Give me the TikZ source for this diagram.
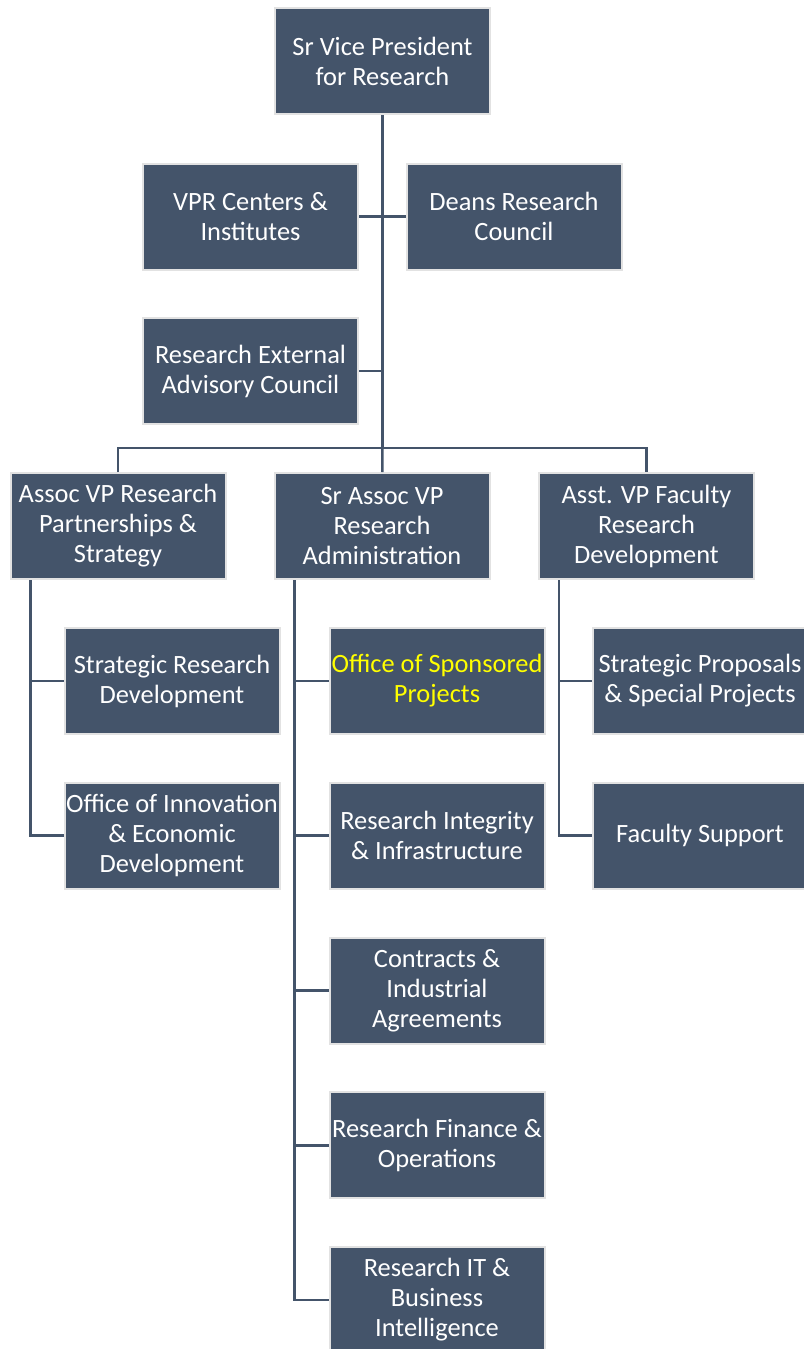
\documentclass[tikz,border=0pt]{standalone}
\usepackage{fontspec}
\setmainfont{Carlito}
\usetikzlibrary{positioning}
\definecolor{boxblue}{HTML}{44546A}
\definecolor{boxrim}{HTML}{E2E2E2}
\definecolor{ospyellow}{HTML}{FFFF00}

\begin{document}
\begin{tikzpicture}[x=1pt, y=-1pt,
    unit/.style={draw=boxrim, line width=2pt, fill=boxblue, text=white,
        minimum width=215pt, minimum height=106pt, inner sep=0pt, align=center,
        font=\fontsize{26.4}{30}\selectfont},
    wire/.style={draw=boxblue, line width=2.5pt}]
            \useasboundingbox (0,0) rectangle (803,1349);

            % Draw the top boxes
            \node[unit] (svp) at (382.5, 61) {Sr Vice President\\for Research};
            \node[unit] (vprc) at (250.5, 216.5) {VPR Centers \&\\Institutes};
            \node[unit] (deans) at (514, 216.5) {Deans Research\\Council};
            \node[unit] (reac) at (250.5, 371) {Research External\\Advisory Council};

            % Draw the three assoc boxes
            \node[unit] (avp) at (118, 526) {Assoc VP Research\\Partnerships \&\\Strategy};
            \node[unit] (savp) at (382, 526) {Sr Assoc VP\\Research\\Administration};
            \node[unit] (aavp) at (646.5, 526) {Asst. VP Faculty\\Research\\Development};

            % Draw the offices under each assoc box
            \node[unit] (srd) at (172, 681) {Strategic Research\\Development};
            \node[unit] (oied) at (172, 835.5) {Office of Innovation\\\& Economic\\Development};

            \node[unit, text=ospyellow] (osp) at (437, 681) {Office of Sponsored\\Projects};
            \node[unit] (rii) at (437, 835.5) {Research Integrity\\\& Infrastructure};
            \node[unit] (cia) at (437, 990.5) {Contracts \&\\Industrial\\Agreements};
            \node[unit] (rfo) at (437, 1145.25) {Research Finance \&\\Operations};
            \node[unit] (ritbi) at (437, 1300) {Research IT \&\\Business\\Intelligence};

            \node[unit] (spsp) at (700, 681) {Strategic Proposals\\\& Special Projects};
            \node[unit] (fs) at (700, 835.5) {Faculty Support};

            % Draw the trunk and its side wires
            \coordinate (hub) at (382.5, 448);
            \draw[wire] (svp) -- (hub);
            \draw[wire] (vprc) -- (deans);
            \draw[wire] (reac) -- (reac -| hub);

            % Draw the bar over the assoc boxes
            \draw[wire] (avp) |- (hub) -| (aavp);
            \draw[wire] (hub) -- (savp);

            % Draw the legs down to the offices
            \coordinate (avpleg) at ([xshift=21pt]avp.south west);
            \coordinate (savpleg) at ([xshift=21pt]savp.south west);
            \coordinate (aavpleg) at ([xshift=21pt]aavp.south west);

            \draw[wire] (avpleg) |- (srd);
            \draw[wire] (avpleg) |- (oied);

            \draw[wire] (savpleg) |- (osp);
            \draw[wire] (savpleg) |- (rii);
            \draw[wire] (savpleg) |- (cia);
            \draw[wire] (savpleg) |- (rfo);
            \draw[wire] (savpleg) |- (ritbi);

            \draw[wire] (aavpleg) |- (spsp);
            \draw[wire] (aavpleg) |- (fs);

        \end{tikzpicture}
\end{document}
